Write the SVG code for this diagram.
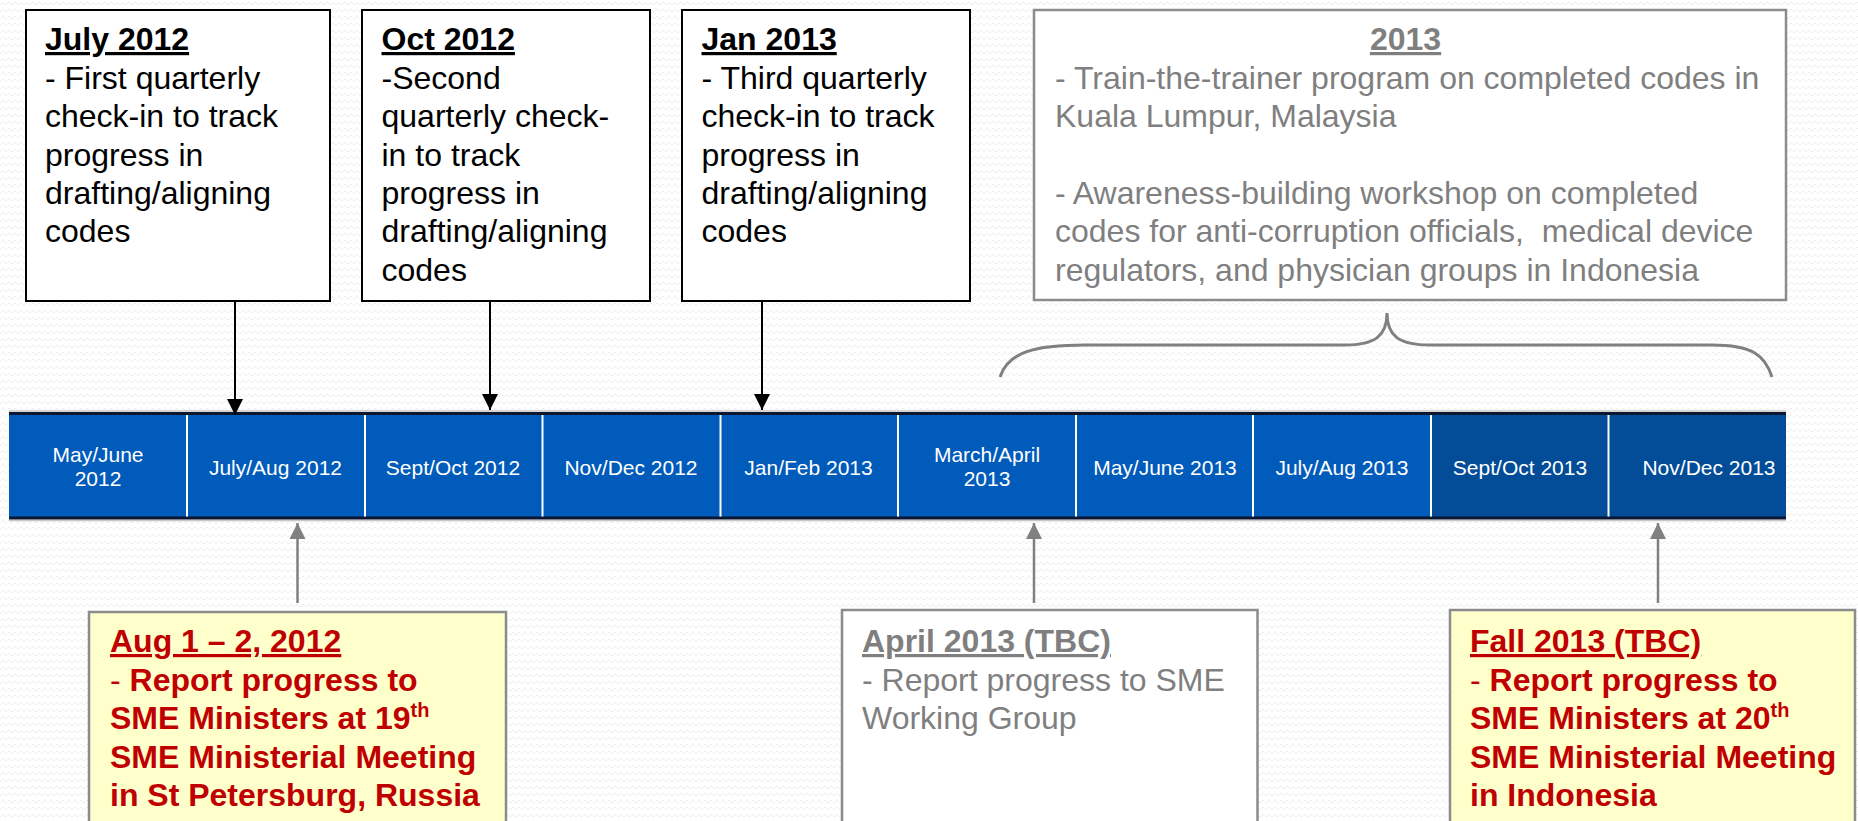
<svg xmlns="http://www.w3.org/2000/svg" width="1858" height="821" viewBox="0 0 1858 821">
  <defs>
    <pattern id="bg" width="12" height="7" patternUnits="userSpaceOnUse">
      <path d="M0,5 L3,2 L6,5 L9,2 L12,5" fill="none" stroke="#ededed" stroke-width="1"/>
    </pattern>
    <marker id="ahBlack" viewBox="0 0 16 16" refX="16" refY="8" markerWidth="16" markerHeight="16" orient="auto" markerUnits="userSpaceOnUse">
      <path d="M0,0 L16,8 L0,16 z" fill="#000"/>
    </marker>
    <marker id="ahGrey" viewBox="0 0 16 16" refX="16" refY="8" markerWidth="16" markerHeight="16" orient="auto" markerUnits="userSpaceOnUse">
      <path d="M0,0 L16,8 L0,16 z" fill="#808080"/>
    </marker>
    <style>
      text { font-family: "Liberation Sans", Arial, sans-serif; }
      .box { fill: #ffffff; stroke: #000000; stroke-width: 2; }
      .gbox { fill: #ffffff; stroke: #8c8c8c; stroke-width: 2.5; }
      .ybox { fill: #ffffcc; stroke: #8c8c8c; stroke-width: 2.5; }
      .t32 { font-size: 32px; fill: #000; }
      .grey { fill: #7f7f7f; }
      .red { fill: #c00000; font-weight: bold; }
      .ttl { font-weight: bold; text-decoration: underline; }
      .cell { fill: #005bbb; }
      .cellD { fill: #034c98; }
      .lbl { font-size: 21px; fill: #ffffff; text-anchor: middle; }
      .div { stroke: #ffffff; stroke-width: 2; }
      .down { stroke: #000; stroke-width: 2; fill: none; marker-end: url(#ahBlack); }
      .up { stroke: #808080; stroke-width: 2.5; fill: none; marker-end: url(#ahGrey); }
    </style>
  </defs>

  <rect x="0" y="0" width="1858" height="821" fill="#ffffff"/>
  <rect x="0" y="0" width="1858" height="821" fill="url(#bg)"/>

  <!-- Timeline bar -->
  <g id="timeline">
    <rect x="9" y="413" width="1599.3" height="105" class="cell"/>
    <rect x="1430.6" y="413" width="355.4" height="105" class="cellD"/>
    <line x1="9" y1="411" x2="1786" y2="411" stroke="#c8c8c8" stroke-width="1.5"/>
    <line x1="9" y1="520.5" x2="1786" y2="520.5" stroke="#c8c8c8" stroke-width="1.5"/>
    <line x1="9" y1="413.5" x2="1786" y2="413.5" stroke="#0b1630" stroke-width="3"/>
    <line x1="9" y1="518" x2="1786" y2="518" stroke="#0b1630" stroke-width="3"/>
    <line class="div" x1="187" y1="415" x2="187" y2="516.5"/>
    <line class="div" x1="365" y1="415" x2="365" y2="516.5"/>
    <line class="div" x1="542.5" y1="415" x2="542.5" y2="516.5"/>
    <line class="div" x1="720.5" y1="415" x2="720.5" y2="516.5"/>
    <line class="div" x1="898" y1="415" x2="898" y2="516.5"/>
    <line class="div" x1="1076" y1="415" x2="1076" y2="516.5"/>
    <line class="div" x1="1253" y1="415" x2="1253" y2="516.5"/>
    <line class="div" x1="1431" y1="415" x2="1431" y2="516.5"/>
    <line class="div" x1="1608.5" y1="415" x2="1608.5" y2="516.5"/>
    <text class="lbl"><tspan x="98" y="462">May/June</tspan><tspan x="98" y="486">2012</tspan></text>
    <text class="lbl" x="275.5" y="475">July/Aug 2012</text>
    <text class="lbl" x="453" y="475">Sept/Oct 2012</text>
    <text class="lbl" x="631" y="475">Nov/Dec 2012</text>
    <text class="lbl" x="808.5" y="475">Jan/Feb 2013</text>
    <text class="lbl"><tspan x="987" y="462">March/April</tspan><tspan x="987" y="486">2013</tspan></text>
    <text class="lbl" x="1165" y="475">May/June 2013</text>
    <text class="lbl" x="1342" y="475">July/Aug 2013</text>
    <text class="lbl" x="1520" y="475">Sept/Oct 2013</text>
    <text class="lbl" x="1709" y="475">Nov/Dec 2013</text>
  </g>

  <!-- Top boxes -->
  <g id="july2012">
    <rect class="box" x="26" y="10" width="304" height="291"/>
    <text class="t32">
      <tspan class="ttl" x="45" y="50">July 2012</tspan>
      <tspan x="45" y="88.5">- First quarterly</tspan>
      <tspan x="45" y="127">check-in to track</tspan>
      <tspan x="45" y="165.5">progress in</tspan>
      <tspan x="45" y="204">drafting/aligning</tspan>
      <tspan x="45" y="242">codes</tspan>
    </text>
  </g>

  <g id="oct2012">
    <rect class="box" x="362" y="10" width="288" height="291"/>
    <text class="t32">
      <tspan class="ttl" x="381.5" y="50">Oct 2012</tspan>
      <tspan x="381.5" y="88.5">-Second</tspan>
      <tspan x="381.5" y="127">quarterly check-</tspan>
      <tspan x="381.5" y="165.5">in to track</tspan>
      <tspan x="381.5" y="204">progress in</tspan>
      <tspan x="381.5" y="242">drafting/aligning</tspan>
      <tspan x="381.5" y="280.5">codes</tspan>
    </text>
  </g>

  <g id="jan2013">
    <rect class="box" x="682" y="10" width="288" height="291"/>
    <text class="t32">
      <tspan class="ttl" x="701.5" y="50">Jan 2013</tspan>
      <tspan x="701.5" y="88.5">- Third quarterly</tspan>
      <tspan x="701.5" y="127">check-in to track</tspan>
      <tspan x="701.5" y="165.5">progress in</tspan>
      <tspan x="701.5" y="204">drafting/aligning</tspan>
      <tspan x="701.5" y="242">codes</tspan>
    </text>
  </g>

  <g id="y2013">
    <rect class="gbox" x="1034" y="10" width="752" height="290"/>
    <text class="t32 grey">
      <tspan class="ttl" x="1410" y="50" text-anchor="middle">2013</tspan>
      <tspan x="1055" y="88.5">- Train-the-trainer program on completed codes in</tspan>
      <tspan x="1055" y="127">Kuala Lumpur, Malaysia</tspan>
      <tspan x="1055" y="204">- Awareness-building workshop on completed</tspan>
      <tspan x="1055" y="242">codes for anti-corruption officials,&#160; medical device</tspan>
      <tspan x="1055" y="280.5">regulators, and physician groups in Indonesia</tspan>
    </text>
  </g>

  <!-- Brace -->
  <g id="brace">
    <path d="M1000,377 C1008,352 1035,345 1085,345 L1345,345 C1375,345 1387,336 1387,313 C1387,336 1399,345 1430,345 L1712,345 C1752,345 1765,355 1772,377" fill="none" stroke="#808080" stroke-width="3"/>
  </g>

  <!-- Bottom boxes -->
  <g id="aug2012">
    <rect class="ybox" x="89" y="612" width="417" height="220"/>
    <text class="t32 red">
      <tspan class="ttl" x="110" y="652">Aug 1 – 2, 2012</tspan>
      <tspan x="110" y="690.5"><tspan font-weight="normal">- </tspan>Report progress to</tspan>
      <tspan x="110" y="729">SME Ministers at 19<tspan font-size="20" dy="-12">th</tspan></tspan>
      <tspan x="110" y="767.5">SME Ministerial Meeting</tspan>
      <tspan x="110" y="806">in St Petersburg, Russia</tspan>
    </text>
  </g>

  <g id="april2013">
    <rect class="gbox" x="842" y="610" width="415.5" height="222"/>
    <text class="t32 grey">
      <tspan class="ttl" x="862" y="652">April 2013 (TBC)</tspan>
      <tspan x="862" y="690.5">- Report progress to SME</tspan>
      <tspan x="862" y="729">Working Group</tspan>
    </text>
  </g>

  <g id="fall2013">
    <rect class="ybox" x="1450" y="610" width="405" height="222"/>
    <text class="t32 red">
      <tspan class="ttl" x="1470" y="652">Fall 2013 (TBC)</tspan>
      <tspan x="1470" y="690.5"><tspan font-weight="normal">- </tspan>Report progress to</tspan>
      <tspan x="1470" y="729">SME Ministers at 20<tspan font-size="20" dy="-12">th</tspan></tspan>
      <tspan x="1470" y="767.5">SME Ministerial Meeting</tspan>
      <tspan x="1470" y="806">in Indonesia</tspan>
    </text>
  </g>

  <!-- Connectors -->
  <g id="connectors">
    <line class="down" x1="235" y1="301" x2="235" y2="415"/>
    <line class="down" x1="490" y1="301" x2="490" y2="410"/>
    <line class="down" x1="762" y1="301" x2="762" y2="410"/>
    <line class="up" x1="297.5" y1="603" x2="297.5" y2="523"/>
    <line class="up" x1="1034" y1="603" x2="1034" y2="523"/>
    <line class="up" x1="1658" y1="603" x2="1658" y2="523"/>
  </g>
</svg>
